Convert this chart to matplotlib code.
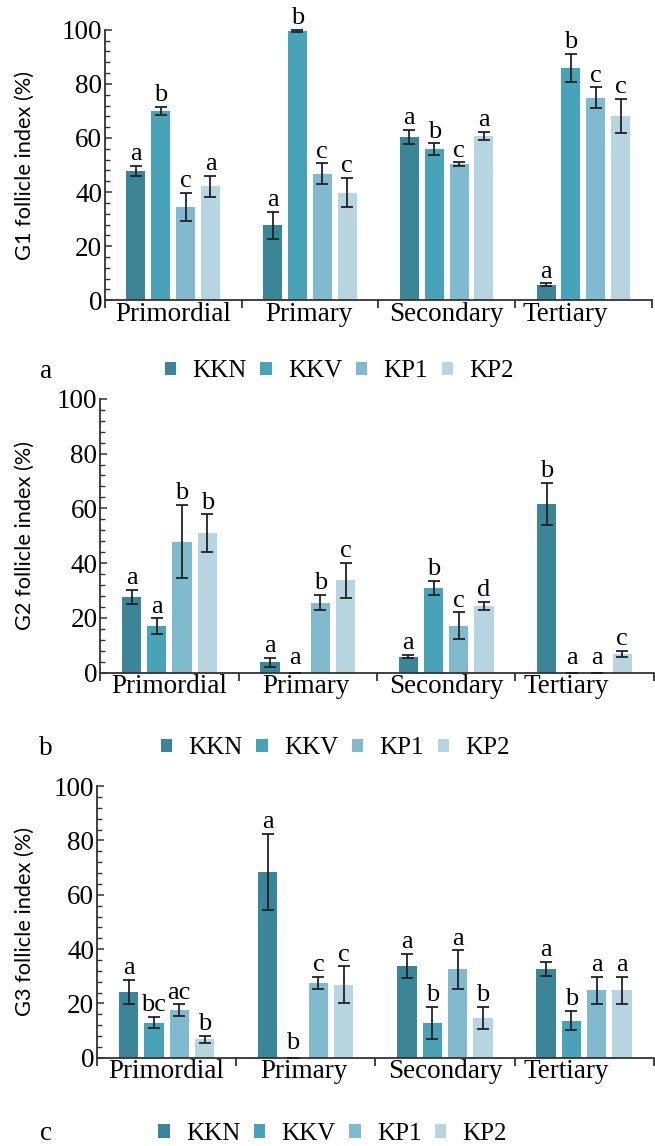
import numpy as np
import matplotlib
matplotlib.use('Agg')
import matplotlib.pyplot as plt
from matplotlib.patches import Patch
from matplotlib.ticker import MultipleLocator, FixedLocator

stages = ['Primordial', 'Primary', 'Secondary', 'Tertiary']
groups = ['KKN', 'KKV', 'KP1', 'KP2']
colors = ['#3b8598', '#48a2b8', '#80bacf', '#b6d5e0']

# G1 follicle index (%), rows = groups, cols = stages
g1_mean = [[47.8, 27.8, 60.4, 5.8],
           [70.0, 99.6, 55.9, 86.0],
           [34.4, 46.8, 50.4, 74.9],
           [42.2, 39.8, 60.7, 68.1]]
g1_err = [[2.0, 5.0, 2.6, 0.5],
          [1.4, 0.3, 2.1, 5.2],
          [5.2, 3.8, 0.6, 3.8],
          [3.9, 5.4, 1.5, 6.3]]
g1_letters = [['a', 'a', 'a', 'a'],
              ['b', 'b', 'b', 'b'],
              ['c', 'c', 'c', 'c'],
              ['a', 'c', 'a', 'c']]

g2_mean = [[27.7, 3.8, 5.8, 61.6],
           [17.1, 0.0, 31.0, 0.0],
           [47.8, 25.6, 17.1, 0.0],
           [50.9, 33.7, 24.4, 6.9]]
g2_err = [[2.6, 1.7, 0.6, 7.7],
          [2.8, 0.0, 2.5, 0.0],
          [13.4, 2.7, 4.9, 0.0],
          [6.9, 6.4, 1.4, 1.2]]
g2_letters = [['a', 'a', 'a', 'b'],
              ['a', 'a', 'b', 'a'],
              ['b', 'b', 'c', 'a'],
              ['b', 'c', 'd', 'c']]

g3_mean = [[24.3, 68.4, 33.7, 32.7],
           [12.9, 0.0, 12.9, 13.7],
           [17.6, 27.6, 32.5, 24.9],
           [6.8, 26.9, 14.7, 24.9]]
g3_err = [[4.4, 14.1, 4.5, 2.6],
          [2.1, 0.0, 5.9, 3.5],
          [2.1, 2.3, 7.1, 5.0],
          [1.3, 6.7, 4.1, 5.0]]
g3_letters = [['a', 'a', 'a', 'a'],
              ['bc', 'b', 'b', 'b'],
              ['ac', 'c', 'a', 'a'],
              ['b', 'c', 'b', 'a']]

panels = [
    ('G1 follicle index (%)', g1_mean, g1_err, g1_letters, 'a',
     [0.160, 0.738, 0.835, 0.236], (0.518, 0.676)),
    ('G2 follicle index (%)', g2_mean, g2_err, g2_letters, 'b',
     [0.153, 0.413, 0.845, 0.239], (0.512, 0.347)),
    ('G3 follicle index (%)', g3_mean, g3_err, g3_letters, 'c',
     [0.148, 0.077, 0.850, 0.237], (0.508, 0.0105)),
]

serif = 'Liberation Serif'
axcol = '#333333'

fig = plt.figure(figsize=(6.55, 11.46), dpi=100)

pitch = 0.182
width = 0.139
x0 = np.arange(len(stages)) + 0.5
label_pos = [0.5, 1.49, 2.5, 3.37]   # "Tertiary" sits left of its group centre

for ylabel, mean, err, letters, tag, rect, legpos in panels:
    ax = fig.add_axes(rect)
    for j in range(len(groups)):
        xs = x0 + (j - 1.5) * pitch
        ax.bar(xs, mean[j], width, color=colors[j], zorder=2)
        ax.errorbar(xs, mean[j], yerr=err[j], fmt='none', ecolor='#222222',
                    elinewidth=1.3, capsize=4, capthick=1.3, zorder=3,
                    clip_on=False)
        for k in range(len(stages)):
            top = mean[j][k] + err[j][k]
            dy = 3 if top == 0 else 0.5
            ax.annotate(letters[j][k], (xs[k], top), xytext=(0, dy),
                        textcoords='offset points', ha='center', va='bottom',
                        fontsize=19, family=serif)
    ax.set_xlim(0, 4)
    ax.set_ylim(0, 100)
    ax.spines['top'].set_visible(False)
    ax.spines['right'].set_visible(False)
    for s in ['left', 'bottom']:
        ax.spines[s].set_color(axcol)
        ax.spines[s].set_linewidth(1.3)

    ax.xaxis.set_major_locator(FixedLocator([0, 1, 2, 3, 4]))
    ax.xaxis.set_minor_locator(FixedLocator(label_pos))
    ax.set_xticklabels([])
    ax.set_xticklabels(stages, minor=True)
    ax.tick_params(axis='x', which='major', direction='out', length=6,
                   width=1.3, color=axcol)
    ax.tick_params(axis='x', which='minor', length=0, pad=1, labelsize=19.5)

    ax.yaxis.set_major_locator(MultipleLocator(20))
    ax.yaxis.set_minor_locator(MultipleLocator(4))
    ax.tick_params(axis='y', which='major', direction='in', length=5,
                   width=1.1, color=axcol, labelsize=19.5, pad=2)
    ax.tick_params(axis='y', which='minor', direction='in', length=3.5,
                   width=1.0, color=axcol)
    for lab in ax.get_xticklabels(minor=True) + ax.get_yticklabels():
        lab.set_family(serif)

    fig.text(25 / 655, rect[1] + rect[3] / 2, ylabel, rotation=90,
             ha='center', va='center', fontsize=15.7, family='Lato')

    handles = [Patch(facecolor=c, edgecolor='none') for c in colors]
    fig.legend(handles, groups, loc='center', bbox_to_anchor=legpos, ncol=4,
               frameon=False, prop={'family': serif, 'size': 18},
               handlelength=0.45, handleheight=0.45, handletextpad=0.65,
               columnspacing=0.55, borderaxespad=0, borderpad=0)
    fig.text(46 / 655, legpos[1], tag, ha='center', va='center',
             fontsize=19.5, family=serif)

fig.savefig('out.png', dpi=100)
